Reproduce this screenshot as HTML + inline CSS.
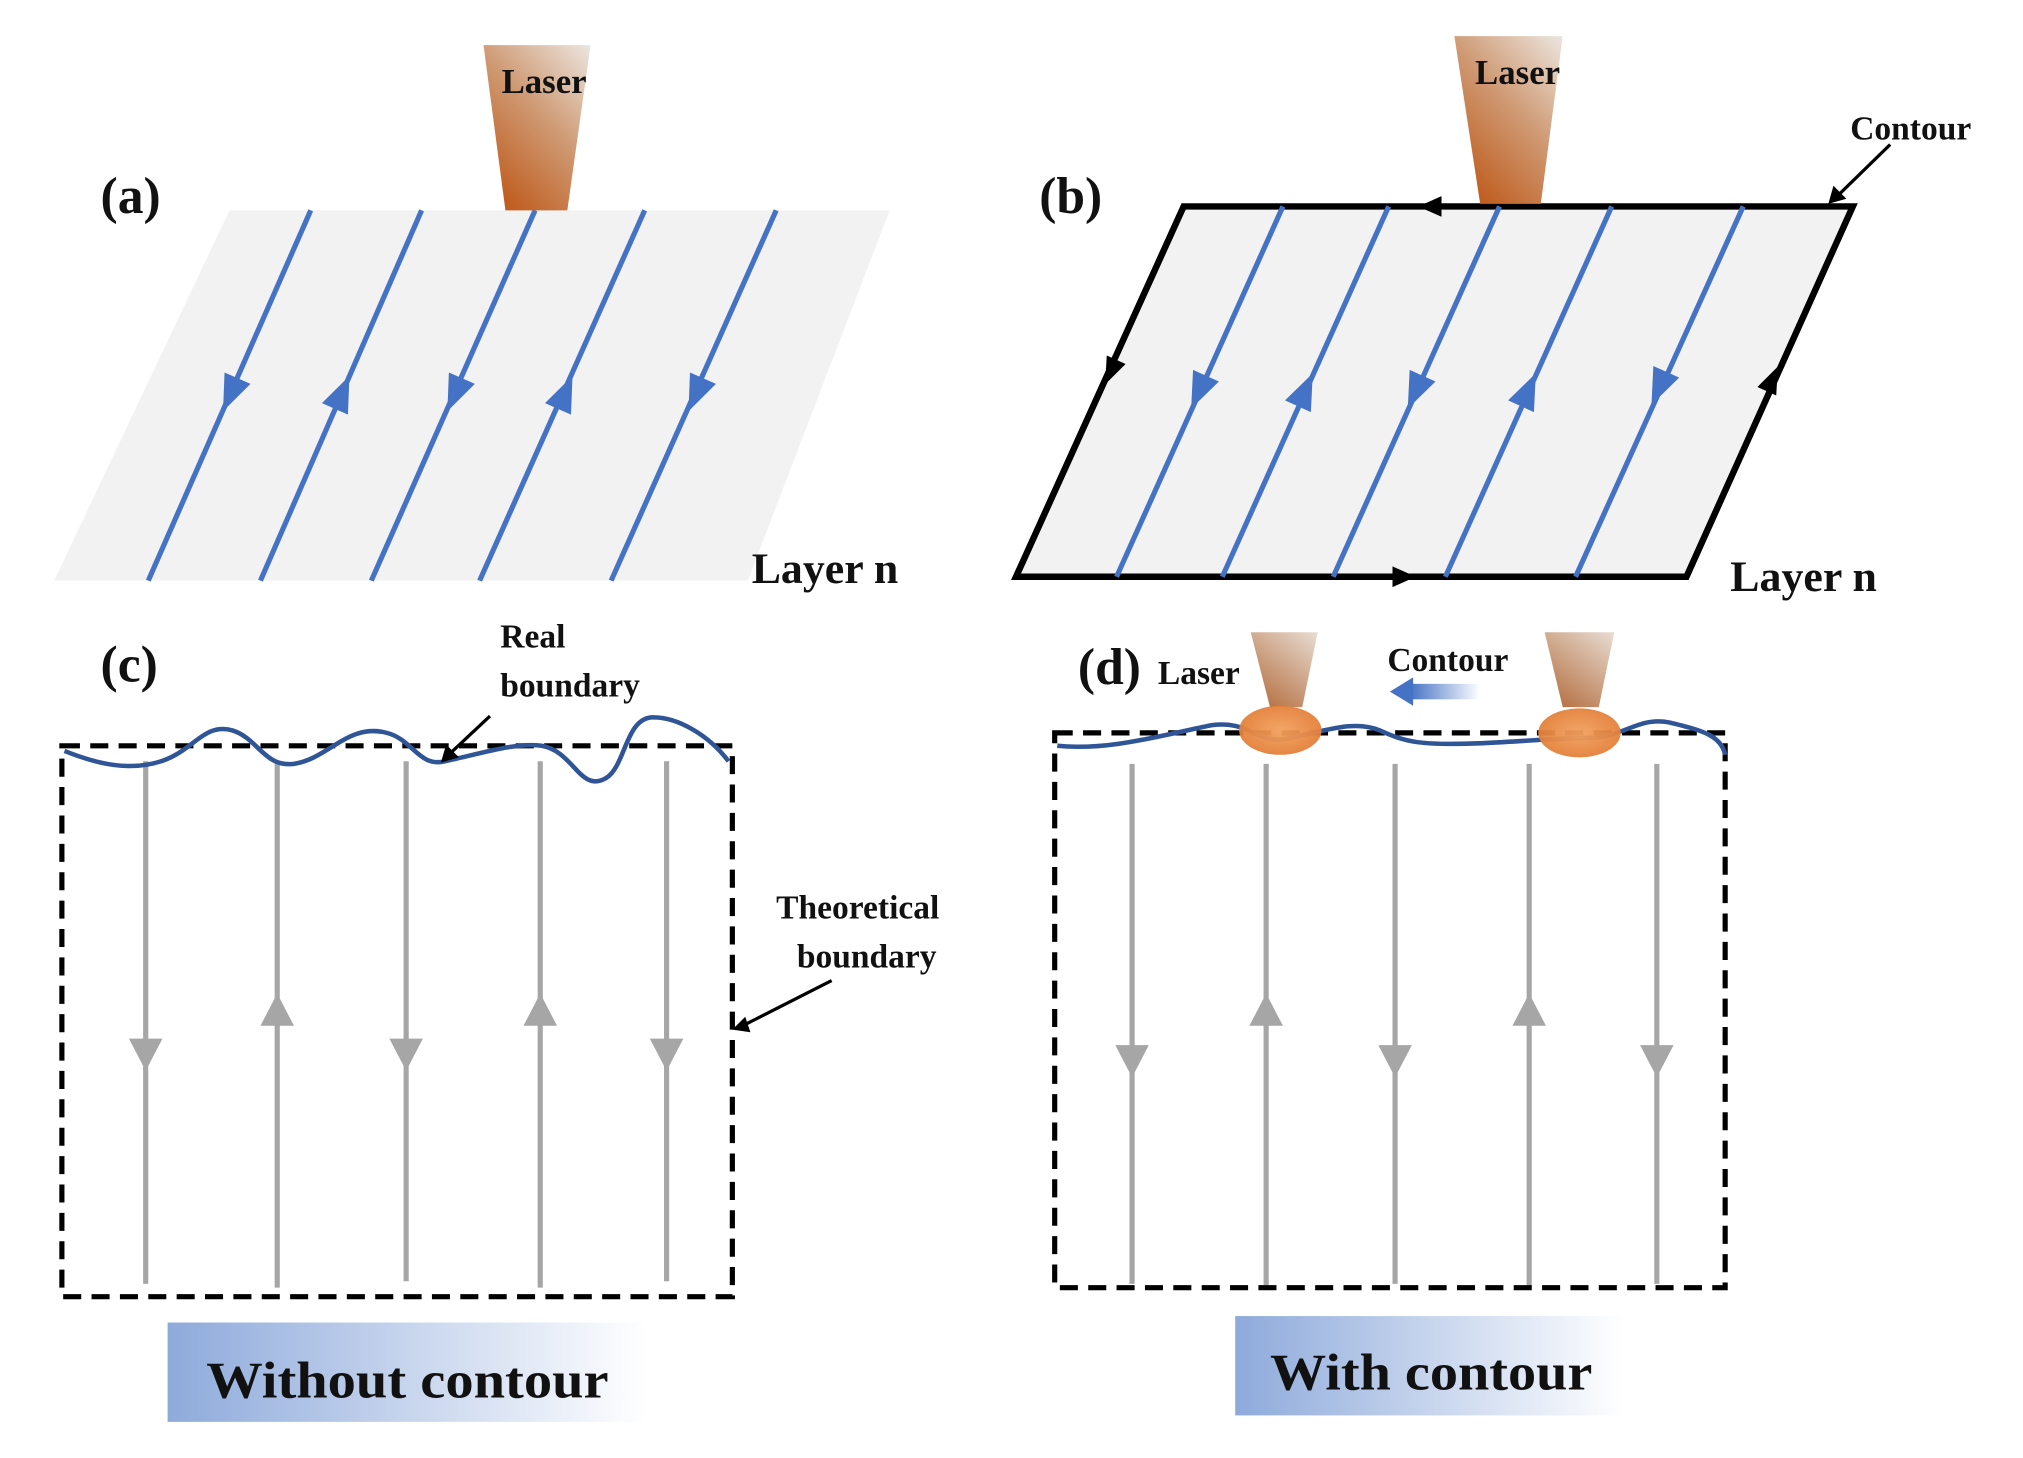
<!DOCTYPE html>
<html><head><meta charset="utf-8">
<style>html,body{margin:0;padding:0;background:#fff}svg{display:block}
text{font-family:"Liberation Serif",serif;font-weight:bold;fill:#111}</style></head>
<body>
<svg width="2023" height="1458" viewBox="0 0 1569 1130" preserveAspectRatio="none" xmlns="http://www.w3.org/2000/svg">
<defs>
<linearGradient id="las" x1="1" y1="0" x2="0.3" y2="1">
<stop offset="0" stop-color="#ece6e0"/><stop offset="0.5" stop-color="#cf9a74"/><stop offset="1" stop-color="#c05f22"/></linearGradient>
<linearGradient id="las2" x1="1" y1="0" x2="0.3" y2="1">
<stop offset="0" stop-color="#e8ddd3"/><stop offset="1" stop-color="#b8764a"/></linearGradient>
<radialGradient id="spot" cx="0.5" cy="0.5" r="0.6"><stop offset="0" stop-color="#f3a15f"/><stop offset="1" stop-color="#e07a33"/></radialGradient>
<linearGradient id="box" x1="0" y1="0" x2="1" y2="0"><stop offset="0" stop-color="#8eaadb"/><stop offset="1" stop-color="#ffffff"/></linearGradient>
<linearGradient id="carr" x1="0" y1="0" x2="1" y2="0"><stop offset="0" stop-color="#4472c4"/><stop offset="1" stop-color="#ffffff"/></linearGradient>
</defs>

<!-- (a) -->
<polygon points="178,163 690,163 580,450 42,450" fill="#f2f2f2"/>
<g stroke="#4472c4" stroke-width="4">
<line x1="241" y1="163" x2="115" y2="450"/><line x1="327" y1="163" x2="202" y2="450"/>
<line x1="415" y1="163" x2="288" y2="450"/><line x1="500" y1="163" x2="372" y2="450"/>
<line x1="602" y1="163" x2="474" y2="450"/></g>
<g fill="#4472c4">
<polygon points="-11,-13 11,-13 0,15" transform="translate(179,305) rotate(23.7)"/>
<polygon points="-11,13 11,13 0,-15" transform="translate(265,305) rotate(23.7)"/>
<polygon points="-11,-13 11,-13 0,15" transform="translate(353,305) rotate(23.7)"/>
<polygon points="-11,13 11,13 0,-15" transform="translate(438,305) rotate(23.7)"/>
<polygon points="-11,-13 11,-13 0,15" transform="translate(540,305) rotate(23.7)"/>
</g>
<polygon points="375,35 458,35 440,163 392,163" fill="url(#las)"/>
<text x="422" y="72" font-size="27" text-anchor="middle">Laser</text>
<text x="78" y="165" font-size="40">(a)</text>
<text x="583" y="452" font-size="34">Layer n</text>

<!-- (b) -->
<polygon points="918,160 1437,160 1308,447 788,447" fill="#f2f2f2" stroke="#000" stroke-width="5"/>
<g stroke="#4472c4" stroke-width="4">
<line x1="995" y1="160" x2="866" y2="447"/><line x1="1077" y1="160" x2="948" y2="447"/>
<line x1="1163" y1="160" x2="1034" y2="447"/><line x1="1250" y1="160" x2="1121" y2="447"/>
<line x1="1352" y1="160" x2="1222" y2="447"/></g>
<g fill="#4472c4">
<polygon points="-11,-13 11,-13 0,15" transform="translate(930,303) rotate(24.2)"/>
<polygon points="-11,13 11,13 0,-15" transform="translate(1012,303) rotate(24.2)"/>
<polygon points="-11,-13 11,-13 0,15" transform="translate(1098,303) rotate(24.2)"/>
<polygon points="-11,13 11,13 0,-15" transform="translate(1185,303) rotate(24.2)"/>
<polygon points="-11,-13 11,-13 0,15" transform="translate(1287,300) rotate(24.2)"/>
</g>
<g fill="#000">
<polygon points="1100,160 1118,152 1118,168"/>
<polygon points="-8,-9 8,-9 0,12" transform="translate(862,287) rotate(24.2)"/>
<polygon points="-8,9 8,9 0,-12" transform="translate(1374,295) rotate(24.2)"/>
<polygon points="1098,447 1080,439 1080,455"/>
</g>
<polygon points="1128,28 1212,28 1195,158 1148,158" fill="url(#las)"/>
<text x="1177" y="65" font-size="27" text-anchor="middle">Laser</text>
<text x="1435" y="108" font-size="26">Contour</text>
<line x1="1466" y1="112" x2="1426" y2="151" stroke="#000" stroke-width="2.5"/>
<polygon points="1418,158 1422,144 1432,154" fill="#000"/>
<text x="806" y="165" font-size="40">(b)</text>
<text x="1342" y="458" font-size="34">Layer n</text>

<!-- (c) -->
<g stroke="#a6a6a6" stroke-width="4">
<line x1="113" y1="590" x2="113" y2="995"/><line x1="215" y1="590" x2="215" y2="998"/>
<line x1="315" y1="590" x2="315" y2="993"/><line x1="419" y1="590" x2="419" y2="998"/>
<line x1="517" y1="590" x2="517" y2="993"/></g>
<g fill="#a6a6a6">
<polygon points="100,805 126,805 113,830"/><polygon points="202,795 228,795 215,770"/>
<polygon points="302,805 328,805 315,830"/><polygon points="406,795 432,795 419,770"/>
<polygon points="504,805 530,805 517,830"/></g>
<rect x="48" y="578" width="520" height="427" fill="none" stroke="#000" stroke-width="4" stroke-dasharray="14,8"/>
<path d="M50,582 C75,592 100,598 125,590 C150,582 158,560 180,566 C200,572 205,595 228,592 C255,588 270,560 300,568 C320,573 325,595 345,590 C370,585 400,575 420,578 C445,582 450,615 470,603 C485,594 485,558 505,556 C525,555 550,570 565,590" fill="none" stroke="#2f5597" stroke-width="3.5"/>
<text x="388" y="502" font-size="26">Real</text>
<text x="388" y="540" font-size="26">boundary</text>
<line x1="380" y1="555" x2="349" y2="584" stroke="#000" stroke-width="2.5"/>
<polygon points="342,591 346,577 356,587" fill="#000"/>
<text x="602" y="712" font-size="26">Theoretical</text>
<text x="618" y="750" font-size="26">boundary</text>
<line x1="645" y1="760" x2="578" y2="794" stroke="#000" stroke-width="2.5"/>
<polygon points="568,798 578,788 582,800" fill="#000"/>
<text x="78" y="528" font-size="40">(c)</text>
<rect x="130" y="1025" width="372" height="77" fill="url(#box)"/>
<text x="316" y="1083" font-size="40" text-anchor="middle" textLength="312" lengthAdjust="spacingAndGlyphs">Without contour</text>

<!-- (d) -->
<g stroke="#a6a6a6" stroke-width="4">
<line x1="878" y1="592" x2="878" y2="995"/><line x1="982" y1="592" x2="982" y2="998"/>
<line x1="1082" y1="592" x2="1082" y2="995"/><line x1="1186" y1="592" x2="1186" y2="998"/>
<line x1="1285" y1="592" x2="1285" y2="995"/></g>
<g fill="#a6a6a6">
<polygon points="865,810 891,810 878,835"/><polygon points="969,795 995,795 982,770"/>
<polygon points="1069,810 1095,810 1082,835"/><polygon points="1173,795 1199,795 1186,770"/>
<polygon points="1272,810 1298,810 1285,835"/></g>
<rect x="818" y="568" width="520" height="430" fill="none" stroke="#000" stroke-width="4" stroke-dasharray="14,8"/>
<path d="M820,578 C860,582 900,570 940,562 C970,558 975,578 1000,572 C1030,566 1050,558 1070,566 C1090,575 1100,578 1150,576 C1190,574 1210,572 1230,572 C1260,572 1270,555 1295,560 C1320,566 1335,570 1338,585" fill="none" stroke="#2f5597" stroke-width="3.5"/>
<polygon points="970,490 1022,490 1010,548 985,548" fill="url(#las2)"/>
<polygon points="1198,490 1252,490 1240,548 1212,548" fill="url(#las2)"/>
<ellipse cx="993" cy="566" rx="32" ry="19" fill="url(#spot)" opacity="0.95"/>
<ellipse cx="1225" cy="568" rx="32" ry="19" fill="url(#spot)" opacity="0.95"/>
<text x="898" y="530" font-size="26">Laser</text>
<text x="836" y="530" font-size="40">(d)</text>
<text x="1076" y="520" font-size="26">Contour</text>
<rect x="1093" y="530" width="55" height="12" fill="url(#carr)"/>
<polygon points="1078,536 1096,525 1096,547" fill="#4472c4"/>
<rect x="958" y="1020" width="302" height="77" fill="url(#box)"/>
<text x="1110" y="1077" font-size="40" text-anchor="middle" textLength="250" lengthAdjust="spacingAndGlyphs">With contour</text>
</svg>
</body></html>
